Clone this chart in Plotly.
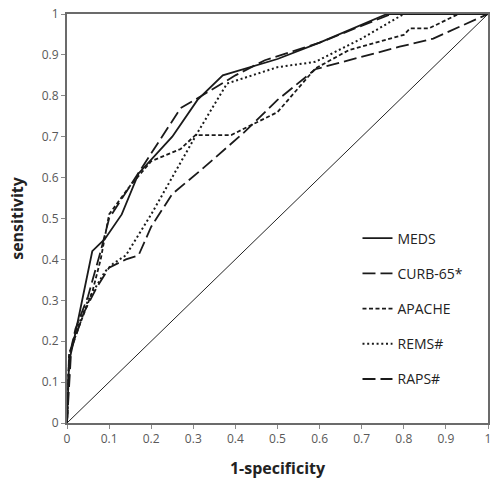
import plotly.graph_objects as go

# Data (1-specificity, sensitivity)
meds_x = [0, 0.005, 0.02, 0.04, 0.06, 0.09, 0.13, 0.17, 0.25, 0.31, 0.37, 0.5, 0.6, 0.76, 1.0]
meds_y = [0, 0.15, 0.22, 0.32, 0.42, 0.45, 0.51, 0.61, 0.70, 0.79, 0.85, 0.89, 0.93, 1.0, 1.0]

curb_x = [0, 0.005, 0.02, 0.05, 0.08, 0.1, 0.15, 0.2, 0.27, 0.32, 0.4, 0.47, 0.6, 0.77, 1.0]
curb_y = [0, 0.16, 0.23, 0.31, 0.42, 0.50, 0.58, 0.66, 0.77, 0.80, 0.85, 0.887, 0.93, 1.0, 1.0]

apache_x = [0, 0.005, 0.03, 0.06, 0.08, 0.1, 0.15, 0.2, 0.27, 0.305, 0.39, 0.5, 0.59, 0.67, 0.8, 0.815, 0.86, 0.93, 1.0]
apache_y = [0, 0.17, 0.24, 0.32, 0.40, 0.51, 0.58, 0.64, 0.67, 0.704, 0.704, 0.76, 0.867, 0.912, 0.949, 0.965, 0.965, 1.0, 1.0]

rems_x = [0, 0.005, 0.02, 0.05, 0.09, 0.11, 0.14, 0.2, 0.31, 0.38, 0.5, 0.59, 0.7, 0.8, 1.0]
rems_y = [0, 0.16, 0.22, 0.30, 0.37, 0.39, 0.41, 0.51, 0.71, 0.83, 0.87, 0.883, 0.94, 1.0, 1.0]

raps_x = [0, 0.01, 0.04, 0.07, 0.1, 0.14, 0.17, 0.2, 0.25, 0.32, 0.42, 0.5, 0.59, 0.79, 0.87, 1.0]
raps_y = [0, 0.18, 0.27, 0.33, 0.38, 0.40, 0.41, 0.48, 0.56, 0.62, 0.71, 0.79, 0.865, 0.92, 0.94, 1.0]

ref_x = [0, 1]
ref_y = [0, 1]

ticks = [0, 0.1, 0.2, 0.3, 0.4, 0.5, 0.6, 0.7, 0.8, 0.9, 1]
tick_text = ["0", "0.1", "0.2", "0.3", "0.4", "0.5", "0.6", "0.7", "0.8", "0.9", "1"]

series = [
    ("MEDS", meds_x, meds_y, "solid", 1.8),
    ("CURB-65*", curb_x, curb_y, "13px,5px", 1.8),
    ("APACHE", apache_x, apache_y, "4px,2.5px", 1.8),
    ("REMS#", rems_x, rems_y, "2px,2.7px", 2),
    ("RAPS#", raps_x, raps_y, "13px,5px", 1.8),
]

fig = go.Figure()
fig.add_trace(go.Scatter(x=ref_x, y=ref_y, mode="lines", showlegend=False,
                         line=dict(color="#222222", width=1)))
for name, xs, ys, dash, w in series:
    fig.add_trace(go.Scatter(x=xs, y=ys, mode="lines", name=name, legendgroup=name,
                             line=dict(color="#1a1a1a", width=w, dash=dash)))

axis_common = dict(
    range=[0, 1], tickvals=ticks, ticktext=tick_text, showgrid=False, zeroline=False,
    showline=True, linecolor="#6b6b6b", linewidth=2, mirror=True,
    ticks="outside", ticklen=4, tickcolor="#8a8a8a", tickwidth=1,
    tickfont=dict(family="Open Sans", size=12, color="#595959"),
)

fig.update_layout(
    width=492, height=483,
    margin=dict(l=67, r=2, t=14, b=60),
    paper_bgcolor="white", plot_bgcolor="white",
    xaxis=dict(**axis_common,
               title=dict(text="<b>1-specificity</b>", standoff=16,
                          font=dict(family="Open Sans", size=16, color="#222222"))),
    yaxis=dict(**axis_common,
               title=dict(text="<b>sensitivity</b>", standoff=14,
                          font=dict(family="Open Sans", size=16, color="#222222"))),
    legend=dict(x=0.69, y=0.49, xanchor="left", yanchor="top",
                font=dict(family="Open Sans", size=14, color="#222222"),
                tracegroupgap=14, bgcolor="rgba(0,0,0,0)", itemwidth=30),
)

fig.write_html("out.html")
